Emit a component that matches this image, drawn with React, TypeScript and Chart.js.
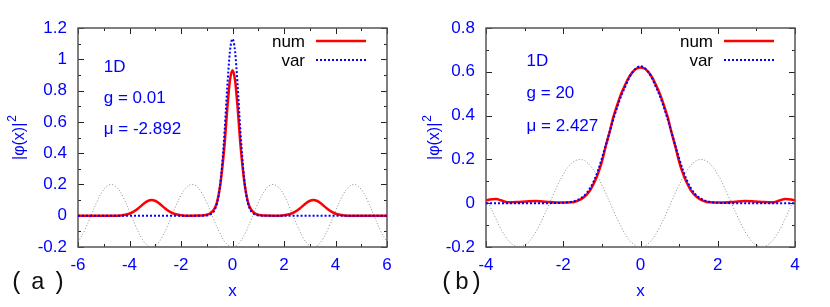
import React, { useEffect, useRef } from "react";
import { Chart, registerables } from "chart.js";

Chart.register(...registerables);

const SANS = '"Liberation Sans", Arial, Helvetica, sans-serif';
const MONO = '"Liberation Mono", "Courier New", "DejaVu Sans Mono", monospace';
const BLUE = "#0000ff";
const RED = "#ff0000";
const GREY = "#8c8c8c";

// ---------- panel (a): g = 0.01 ----------
const A_X_TICKS = [-6, -4, -2, 0, 2, 4, 6];
const A_Y_TICKS = [-0.2, 0, 0.2, 0.4, 0.6, 0.8, 1, 1.2];

const A_NUM_X = [-6, -4.7, -4.34, -4.04, -3.84, -3.64, -3.44, -3.29, -3.14, -2.99, -2.84, -2.64, -2.44, -2.24, -1.94, -1.6, -1.3, -1.1, -1.0, -0.9, -0.8, -0.7, -0.6, -0.5, -0.4, -0.3, -0.2, -0.1, 0, 0.1, 0.2, 0.3, 0.4, 0.5, 0.6, 0.7, 0.8, 0.9, 1.0, 1.1, 1.3, 1.6, 1.94, 2.24, 2.44, 2.64, 2.84, 2.99, 3.14, 3.29, 3.44, 3.64, 3.84, 4.04, 4.34, 4.7, 6];
const A_NUM_Y = [0, 0, 0.002, 0.011, 0.026, 0.05, 0.078, 0.094, 0.1, 0.094, 0.078, 0.05, 0.026, 0.011, 0.002, 0, 0.001, 0.003, 0.006, 0.012, 0.025, 0.045, 0.088, 0.17, 0.3, 0.47, 0.69, 0.865, 0.93, 0.865, 0.69, 0.47, 0.3, 0.17, 0.088, 0.045, 0.025, 0.012, 0.006, 0.003, 0.001, 0, 0.002, 0.011, 0.026, 0.05, 0.078, 0.094, 0.1, 0.094, 0.078, 0.05, 0.026, 0.011, 0.002, 0, 0];

const A_VAR_X = [-6, -1.3, -1.1, -1.0, -0.9, -0.8, -0.7, -0.6, -0.5, -0.4, -0.3, -0.2, -0.1, 0, 0.1, 0.2, 0.3, 0.4, 0.5, 0.6, 0.7, 0.8, 0.9, 1.0, 1.1, 1.3, 6];
const A_VAR_Y = [0, 0, 0.001, 0.002, 0.006, 0.015, 0.035, 0.08, 0.17, 0.33, 0.56, 0.83, 1.05, 1.13, 1.05, 0.83, 0.56, 0.33, 0.17, 0.08, 0.035, 0.015, 0.006, 0.002, 0.001, 0, 0];

const A_POT_X = [-6, -5.75, -5.5, -5.25, -5, -4.75, -4.5, -4.25, -4, -3.75, -3.5, -3.25, -3, -2.75, -2.5, -2.25, -2, -1.75, -1.5, -1.25, -1, -0.75, -0.5, -0.25, 0, 0.25, 0.5, 0.75, 1, 1.25, 1.5, 1.75, 2, 2.25, 2.5, 2.75, 3, 3.25, 3.5, 3.75, 4, 4.25, 4.5, 4.75, 5, 5.25, 5.5, 5.75, 6];
const A_POT_Y = [-0.169, -0.097, -0.001, 0.095, 0.168, 0.199, 0.182, 0.12, 0.029, -0.069, -0.151, -0.195, -0.192, -0.142, -0.057, 0.042, 0.131, 0.187, 0.198, 0.16, 0.083, -0.014, -0.108, -0.176, -0.2, -0.176, -0.108, -0.014, 0.083, 0.16, 0.198, 0.187, 0.131, 0.042, -0.057, -0.142, -0.192, -0.195, -0.151, -0.069, 0.029, 0.12, 0.182, 0.199, 0.168, 0.095, -0.001, -0.097, -0.169];

const A_NOTES = ["1D", "g = 0.01", "μ = -2.892"];
const A_NOTE_X = -5.0;
const A_NOTE_Y = [0.95, 0.75, 0.55];

// ---------- panel (b): g = 20 ----------
const B_X_TICKS = [-4, -2, 0, 2, 4];
const B_Y_TICKS = [-0.2, 0, 0.2, 0.4, 0.6, 0.8];

const B_NUM_X = [-4, -3.9, -3.74, -3.6, -3.44, -3.2, -2.95, -2.7, -2.45, -2.19, -2.0, -1.8, -1.7, -1.6, -1.5, -1.4, -1.3, -1.2, -1.1, -1.0, -0.9, -0.8, -0.7, -0.6, -0.5, -0.4, -0.3, -0.2, -0.1, 0, 0.1, 0.2, 0.3, 0.4, 0.5, 0.6, 0.7, 0.8, 0.9, 1.0, 1.1, 1.2, 1.3, 1.4, 1.5, 1.6, 1.7, 1.8, 2.0, 2.19, 2.45, 2.7, 2.95, 3.2, 3.44, 3.6, 3.74, 3.9, 4];
const B_NUM_Y = [0.012, 0.017, 0.019, 0.012, 0.004, 0.005, 0.008, 0.01, 0.007, 0.003, 0.003, 0.004, 0.007, 0.013, 0.023, 0.038, 0.06, 0.093, 0.135, 0.19, 0.26, 0.325, 0.395, 0.45, 0.5, 0.54, 0.575, 0.6, 0.615, 0.62, 0.615, 0.6, 0.575, 0.54, 0.5, 0.45, 0.395, 0.325, 0.26, 0.19, 0.135, 0.093, 0.06, 0.038, 0.023, 0.013, 0.007, 0.004, 0.003, 0.003, 0.007, 0.01, 0.008, 0.005, 0.004, 0.012, 0.019, 0.017, 0.012];

const B_VAR_X = [-4, -2.4, -2.2, -2.0, -1.8, -1.7, -1.6, -1.5, -1.4, -1.3, -1.2, -1.1, -1.0, -0.9, -0.8, -0.7, -0.6, -0.5, -0.4, -0.3, -0.2, -0.1, 0, 0.1, 0.2, 0.3, 0.4, 0.5, 0.6, 0.7, 0.8, 0.9, 1.0, 1.1, 1.2, 1.3, 1.4, 1.5, 1.6, 1.7, 1.8, 2.0, 2.2, 2.4, 4];
const B_VAR_Y = [0, 0, 0.001, 0.002, 0.006, 0.01, 0.017, 0.028, 0.045, 0.07, 0.105, 0.15, 0.205, 0.265, 0.325, 0.385, 0.44, 0.49, 0.53, 0.57, 0.6, 0.618, 0.625, 0.618, 0.6, 0.57, 0.53, 0.49, 0.44, 0.385, 0.325, 0.265, 0.205, 0.15, 0.105, 0.07, 0.045, 0.028, 0.017, 0.01, 0.006, 0.002, 0.001, 0, 0];

const B_POT_X = [-4, -3.75, -3.5, -3.25, -3, -2.75, -2.5, -2.25, -2, -1.75, -1.5, -1.25, -1, -0.75, -0.5, -0.25, 0, 0.25, 0.5, 0.75, 1, 1.25, 1.5, 1.75, 2, 2.25, 2.5, 2.75, 3, 3.25, 3.5, 3.75, 4];
const B_POT_Y = [0.029, -0.069, -0.151, -0.195, -0.192, -0.142, -0.057, 0.042, 0.131, 0.187, 0.198, 0.16, 0.083, -0.014, -0.108, -0.176, -0.2, -0.176, -0.108, -0.014, 0.083, 0.16, 0.198, 0.187, 0.131, 0.042, -0.057, -0.142, -0.192, -0.195, -0.151, -0.069, 0.029];

const B_NOTES = ["1D", "g = 20", "μ = 2.427"];
const B_NOTE_X = -2.95;
const B_NOTE_Y = [0.65, 0.5, 0.35];

const LEGEND_LABELS = ["num", "var"];
const X_TITLE = "x";
const Y_TITLE = "|φ(x)|";
const Y_TITLE_SUP = "2";

type Panel = {
  id: string;
  xMin: number; xMax: number; xTicks: number[]; xMinorStep: number;
  yMin: number; yMax: number; yTicks: number[]; yMinorStep: number;
  numX: number[]; numY: number[];
  varX: number[]; varY: number[];
  potX: number[]; potY: number[];
  notes: string[]; noteX: number; noteY: number[];
  padLeft: number; padRight: number;
  label: string[]; labelPos: number[];
};

const PANELS: Panel[] = [
  {
    id: "a", xMin: -6, xMax: 6, xTicks: A_X_TICKS, xMinorStep: 1,
    yMin: -0.2, yMax: 1.2, yTicks: A_Y_TICKS, yMinorStep: 0.1,
    numX: A_NUM_X, numY: A_NUM_Y, varX: A_VAR_X, varY: A_VAR_Y,
    potX: A_POT_X, potY: A_POT_Y,
    notes: A_NOTES, noteX: A_NOTE_X, noteY: A_NOTE_Y,
    padLeft: 28, padRight: 28,
    label: ["(", "a", ")"], labelPos: [17, 38, 59],
  },
  {
    id: "b", xMin: -4, xMax: 4, xTicks: B_X_TICKS, xMinorStep: 1,
    yMin: -0.2, yMax: 0.8, yTicks: B_Y_TICKS, yMinorStep: 0.1,
    numX: B_NUM_X, numY: B_NUM_Y, varX: B_VAR_X, varY: B_VAR_Y,
    potX: B_POT_X, potY: B_POT_Y,
    notes: B_NOTES, noteX: B_NOTE_X, noteY: B_NOTE_Y,
    padLeft: 21, padRight: 35,
    label: ["(", "b", ")"], labelPos: [32, 47, 61],
  },
];

const zip = (xs: number[], ys: number[]) => xs.map((x, i) => ({ x, y: ys[i] }));

function decor(p: Panel) {
  return {
    id: "decor_" + p.id,
    beforeDatasetsDraw(chart: any) {
      const ctx = chart.ctx as CanvasRenderingContext2D;
      const { left, right, top, bottom } = chart.chartArea;
      const sx = chart.scales.x;
      const sy = chart.scales.y;
      ctx.save();
      ctx.strokeStyle = "#222";
      ctx.lineWidth = 1;
      const nx = Math.round((p.xMax - p.xMin) / p.xMinorStep);
      for (let i = 0; i <= nx; i++) {
        const v = p.xMin + i * p.xMinorStep;
        const major = p.xTicks.some((t) => Math.abs(t - v) < 1e-6);
        const len = major ? 6 : 3;
        const px = Math.round(sx.getPixelForValue(v)) + 0.5;
        ctx.beginPath();
        ctx.moveTo(px, bottom); ctx.lineTo(px, bottom - len);
        ctx.moveTo(px, top); ctx.lineTo(px, top + len);
        ctx.stroke();
      }
      const ny = Math.round((p.yMax - p.yMin) / p.yMinorStep);
      for (let i = 0; i <= ny; i++) {
        const v = p.yMin + i * p.yMinorStep;
        const major = p.yTicks.some((t) => Math.abs(t - v) < 1e-6);
        const len = major ? 6 : 3;
        const py = Math.round(sy.getPixelForValue(v)) + 0.5;
        ctx.beginPath();
        ctx.moveTo(left, py); ctx.lineTo(left + len, py);
        ctx.moveTo(right, py); ctx.lineTo(right - len, py);
        ctx.stroke();
      }
      ctx.strokeStyle = "#555";
      ctx.lineWidth = 1.5;
      ctx.strokeRect(left, top, right - left, bottom - top);
      ctx.restore();
    },
    afterDraw(chart: any) {
      const ctx = chart.ctx as CanvasRenderingContext2D;
      const { left, right, top, bottom } = chart.chartArea;
      const sx = chart.scales.x;
      const sy = chart.scales.y;
      ctx.save();
      ctx.fillStyle = BLUE;
      ctx.font = `17px ${SANS}`;
      ctx.textAlign = "left";
      ctx.textBaseline = "middle";
      p.notes.forEach((t, i) => {
        ctx.fillText(t, sx.getPixelForValue(p.noteX), sy.getPixelForValue(p.noteY[i]));
      });
      // legend
      ctx.fillStyle = "#000";
      ctx.textAlign = "right";
      const ly = [top + 14, top + 33];
      ctx.fillText(LEGEND_LABELS[0], right - 82, ly[0]);
      ctx.fillText(LEGEND_LABELS[1], right - 82, ly[1]);
      ctx.strokeStyle = RED;
      ctx.lineWidth = 2.5;
      ctx.beginPath();
      ctx.moveTo(right - 71, ly[0] - 1); ctx.lineTo(right - 21, ly[0] - 1);
      ctx.stroke();
      ctx.strokeStyle = BLUE;
      ctx.lineWidth = 2;
      ctx.setLineDash([2, 2]);
      ctx.beginPath();
      ctx.moveTo(right - 71, ly[1] - 1); ctx.lineTo(right - 21, ly[1] - 1);
      ctx.stroke();
      ctx.setLineDash([]);
      // x title
      ctx.fillStyle = BLUE;
      ctx.textAlign = "center";
      ctx.fillText(X_TITLE, (left + right) / 2, 291);
      // y title (rotated)
      ctx.save();
      ctx.translate(20, (top + bottom) / 2);
      ctx.rotate(-Math.PI / 2);
      ctx.font = `16px ${SANS}`;
      const w1 = ctx.measureText(Y_TITLE).width;
      ctx.font = `12px ${SANS}`;
      const w2 = ctx.measureText(Y_TITLE_SUP).width;
      const x0 = -(w1 + w2 + 1) / 2;
      ctx.textAlign = "left";
      ctx.font = `16px ${SANS}`;
      ctx.fillText(Y_TITLE, x0, 0);
      ctx.font = `12px ${SANS}`;
      ctx.fillText(Y_TITLE_SUP, x0 + w1 + 1, -7);
      ctx.restore();
      // panel label
      ctx.fillStyle = "#111";
      ctx.font = `24px ${MONO}`;
      ctx.textAlign = "center";
      p.label.forEach((c, i) => ctx.fillText(c, p.labelPos[i], 283));
      ctx.restore();
    },
  };
}

function makeChart(canvas: HTMLCanvasElement, p: Panel) {
  const tickFont = { size: 17, family: SANS };
  return new Chart(canvas, {
    type: "line",
    data: {
      datasets: [
        {
          label: "var", data: zip(p.varX, p.varY), borderColor: BLUE, borderWidth: 2,
          borderDash: [2, 2], pointRadius: 0, cubicInterpolationMode: "monotone", fill: false, order: 0,
        },
        {
          label: "num", data: zip(p.numX, p.numY), borderColor: RED, borderWidth: 2.5,
          pointRadius: 0, cubicInterpolationMode: "monotone", fill: false, order: 1,
        },
        {
          label: "V", data: zip(p.potX, p.potY), borderColor: GREY, borderWidth: 1,
          borderDash: [1, 2], pointRadius: 0, tension: 0.4, fill: false, order: 2,
        },
      ] as any,
    },
    options: {
      animation: false,
      responsive: false,
      devicePixelRatio: 1,
      events: [],
      layout: { padding: { left: p.padLeft, right: p.padRight, top: 28, bottom: 20 } },
      plugins: { legend: { display: false }, tooltip: { enabled: false } },
      scales: {
        x: {
          type: "linear", min: p.xMin, max: p.xMax,
          grid: { display: false, drawTicks: false },
          border: { display: false },
          ticks: {
            stepSize: 2, color: BLUE, font: tickFont, padding: 8, maxRotation: 0, autoSkip: false,
            callback: (v: any) => String(Math.round(Number(v) * 10) / 10),
          },
          afterFit: (s: any) => { s.height = 40; },
        },
        y: {
          type: "linear", min: p.yMin, max: p.yMax,
          grid: { display: false, drawTicks: false },
          border: { display: false },
          ticks: {
            stepSize: 0.2, color: BLUE, font: tickFont, padding: 11, autoSkip: false,
            callback: (v: any) => String(Math.round(Number(v) * 10) / 10),
          },
          afterFit: (s: any) => { s.width = 50; },
        },
      },
    } as any,
    plugins: [decor(p)],
  });
}

function PanelCanvas({ p }: { p: Panel }) {
  const ref = useRef<HTMLCanvasElement | null>(null);
  useEffect(() => {
    if (!ref.current) return;
    const c = makeChart(ref.current, p);
    return () => c.destroy();
  }, [p]);
  return <canvas ref={ref} width={415} height={307} style={{ display: "block", width: 415, height: 307 }} />;
}

export default function App() {
  return (
    <div style={{ position: "absolute", left: 0, top: 0, width: 830, height: 307, background: "#fff" }}>
      <div style={{ position: "absolute", left: 0, top: 0, width: 415, height: 307 }}>
        <PanelCanvas p={PANELS[0]} />
      </div>
      <div style={{ position: "absolute", left: 415, top: 0, width: 415, height: 307 }}>
        <PanelCanvas p={PANELS[1]} />
      </div>
    </div>
  );
}
